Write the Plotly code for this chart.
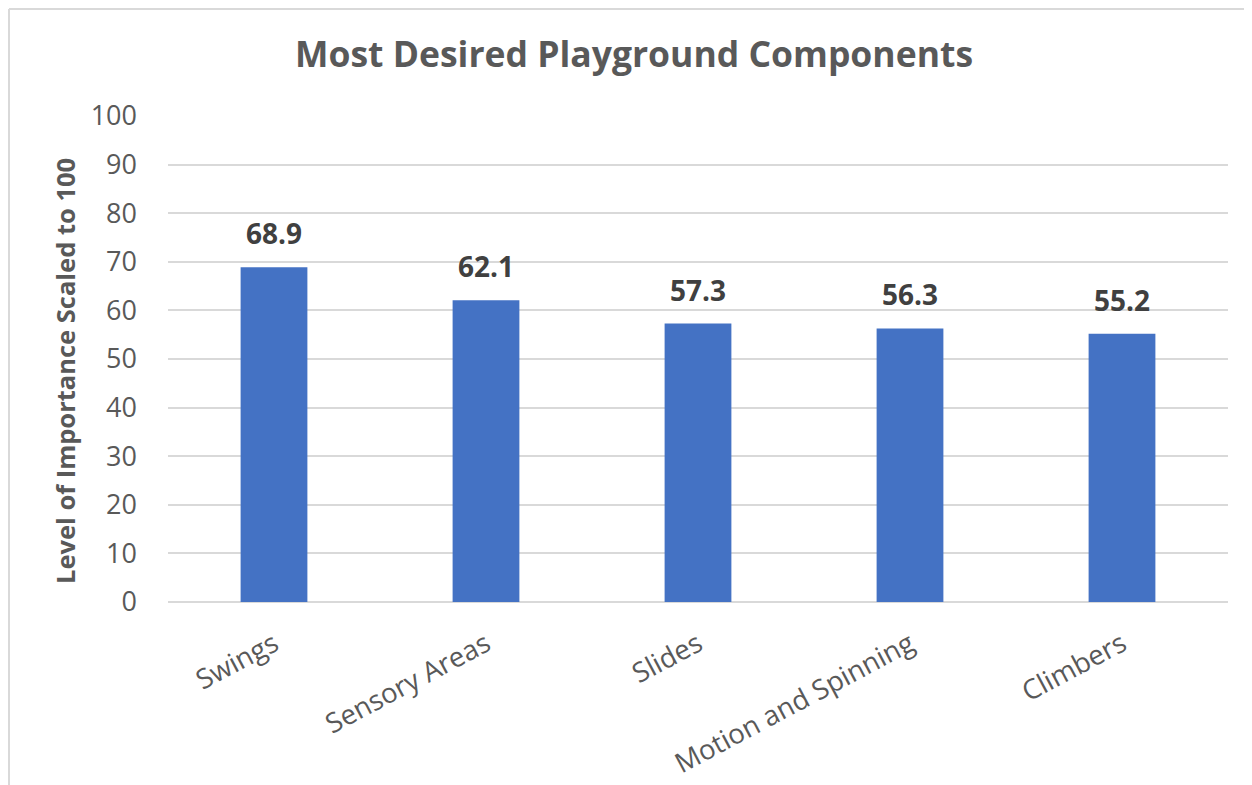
import plotly.graph_objects as go

categories = ["Swings", "Sensory Areas", "Slides", "Motion and Spinning", "Climbers"]
values = [68.9, 62.1, 57.3, 56.3, 55.2]
y_ticks = [0, 10, 20, 30, 40, 50, 60, 70, 80, 90, 100]

# page body adds 8px, so the figure is 8px smaller than the window
W, H = 1244, 777
L, R, T, B = 160, 24, 108, 183
pw, ph = W - L - R, H - T - B

font = "'Open Sans', sans-serif"
grey = "#595959"
grid = "#D9D9D9"

fig = go.Figure()
fig.add_trace(go.Bar(
    x=categories, y=values,
    marker=dict(color="#4472C4", line=dict(width=0)),
    width=0.315,
    showlegend=False,
))

# data labels sit well above the bars, as in the original
for c, v in zip(categories, values):
    fig.add_annotation(
        x=c, y=v, text=f"<b>{v:.1f}</b>", showarrow=False,
        yanchor="middle", yshift=34,
        font=dict(family=font, size=28, color="#404040"),
    )

# y axis title, placed a little below the plot centre like Excel does
fig.add_annotation(
    xref="paper", yref="paper",
    x=(57 - L) / pw, y=1 - (363 - T) / ph,
    text="<b>Level of Importance Scaled to 100</b>", textangle=-90,
    showarrow=False, xanchor="center", yanchor="middle",
    font=dict(family=font, size=25.5, color=grey),
)

fig.update_layout(
    width=W, height=H,
    margin=dict(l=L, r=R, t=T, b=B, autoexpand=False),
    paper_bgcolor="white",
    plot_bgcolor="white",
    title=dict(
        text="<b>Most Desired Playground Components</b>",
        x=626 / W, xanchor="center", y=1 - 47 / H, yanchor="middle",
        font=dict(family=font, size=35.5, color=grey),
    ),
    shapes=[
        dict(type="line", xref="paper", yref="paper",
             x0=(1 - L) / pw, x1=(W + 5 - L) / pw,
             y0=(H - B - 1) / ph, y1=(H - B - 1) / ph,
             line=dict(color=grid, width=2)),
        dict(type="line", xref="paper", yref="paper",
             x0=(1 - L) / pw, x1=(1 - L) / pw,
             y0=(H - B - 1) / ph, y1=(-B - 5) / ph,
             line=dict(color=grid, width=2)),
    ],
)

fig.update_xaxes(
    tickangle=-28,
    tickfont=dict(family=font, size=27.5, color=grey),
    showgrid=False, showline=False, ticks="",
    ticklabelstandoff=20, automargin=False,
)
fig.update_yaxes(
    range=[0, 100],
    tickvals=y_ticks,
    tickfont=dict(family=font, size=27, color=grey),
    showgrid=True, gridcolor=grid, gridwidth=1.5,
    zeroline=True, zerolinecolor=grid, zerolinewidth=1.5,
    ticks="", ticklabelstandoff=30, automargin=False,
)

fig.write_html("out.html")
